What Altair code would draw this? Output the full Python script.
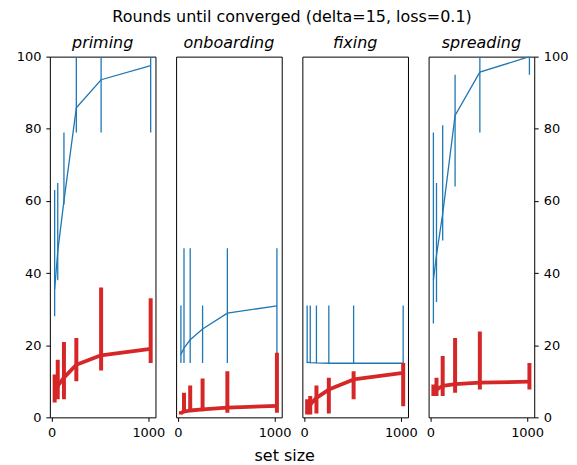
import altair as alt
import pandas as pd

set_sizes = [32, 64, 128, 256, 512, 1024]
panel_names = ["priming", "onboarding", "fixing", "spreading"]

# blue series (mean, low, high) per panel
blue_y = {
    "priming":    [35.5, 46.0, 60.0, 85.8, 93.6, 97.5],
    "onboarding": [17.4, 19.2, 21.5, 24.5, 28.9, 30.9],
    "fixing":     [15.3, 15.2, 15.1, 15.0, 15.0, 15.0],
    "spreading":  [38.0, 45.0, 56.5, 83.7, 95.7, 100.0],
}
blue_lo = {
    "priming":    [28, 38, 59, 79, 79, 79],
    "onboarding": [15.1, 15.1, 15.1, 15.1, 15.1, 15.1],
    "fixing":     [15.0, 15.0, 15.0, 15.0, 15.0, 15.0],
    "spreading":  [26, 32, 49, 64, 79, 95],
}
blue_hi = {
    "priming":    [63, 65, 79, 100, 100, 100],
    "onboarding": [31, 46.9, 46.9, 31, 46.9, 46.9],
    "fixing":     [31, 31, 31, 31, 31, 31],
    "spreading":  [79, 65, 81, 95, 100, 100],
}
# red series (mean, low, high) per panel
red_y = {
    "priming":    [6.0, 8.7, 11.0, 14.6, 17.2, 19.0],
    "onboarding": [1.2, 1.6, 1.9, 2.2, 2.7, 3.2],
    "fixing":     [2.7, 3.6, 5.4, 7.7, 10.5, 12.3],
    "spreading":  [7.3, 7.7, 8.7, 9.2, 9.6, 9.9],
}
red_lo = {
    "priming":    [4.1, 5.0, 5.0, 10.0, 13.0, 15.1],
    "onboarding": [0.8, 1.3, 1.7, 1.7, 1.3, 1.3],
    "fixing":     [0.8, 0.8, 1.1, 1.1, 5.0, 3.1],
    "spreading":  [5.9, 5.9, 5.9, 6.8, 7.7, 7.7],
}
red_hi = {
    "priming":    [11.9, 16.0, 20.9, 22.0, 36.0, 33.0],
    "onboarding": [1.7, 6.8, 8.8, 10.8, 12.8, 17.9],
    "fixing":     [5.0, 5.9, 8.8, 11.0, 12.8, 15.1],
    "spreading":  [9.1, 11.0, 17.0, 22.0, 23.8, 15.1],
}

BLUE = "#1f77b4"
RED = "#d62728"
FONT = "DejaVu Sans"

charts = []
for i, name in enumerate(panel_names):
    df = pd.DataFrame({
        "x": set_sizes,
        "by": blue_y[name], "blo": blue_lo[name], "bhi": blue_hi[name],
        "ry": red_y[name], "rlo": red_lo[name], "rhi": red_hi[name],
    })
    xaxis = alt.Axis(values=[0, 1000], format="d", grid=False, labelFlush=False,
                     labelPadding=5,
                     title="set size" if i == 1 else None,
                     titleX=108.5, titleFontSize=16, titleFont=FONT,
                     titleFontWeight="normal", titlePadding=8, titleColor="black")
    xenc = alt.X("x:Q", scale=alt.Scale(domain=[-17.6, 1073.6], nice=False, zero=False),
                 axis=xaxis)
    if i == 0:
        yaxis = alt.Axis(values=[0, 20, 40, 60, 80, 100], grid=False, title=None,
                         orient="left", labelPadding=5)
    elif i == 3:
        yaxis = alt.Axis(values=[0, 20, 40, 60, 80, 100], grid=False, title=None,
                         orient="right", labelPadding=5)
    else:
        yaxis = None
    yscale = alt.Scale(domain=[0, 100], nice=False, zero=False)
    base = alt.Chart(df)
    b_err = base.mark_rule(color=BLUE, strokeWidth=1.3, clip=True).encode(
        x=xenc, y=alt.Y("blo:Q", scale=yscale, axis=yaxis), y2="bhi:Q")
    b_line = base.mark_line(color=BLUE, strokeWidth=1.3, clip=True).encode(
        x="x:Q", y="by:Q")
    r_err = base.mark_rule(color=RED, strokeWidth=4, clip=True).encode(
        x="x:Q", y="rlo:Q", y2="rhi:Q")
    r_line = base.mark_line(color=RED, strokeWidth=3.8, strokeJoin="round", clip=True).encode(
        x="x:Q", y="ry:Q")
    title_offset = 0 if i in (0, 3) else 6
    layer = alt.layer(b_err, b_line, r_err, r_line).properties(
        width=106, height=362,
        title=alt.TitleParams(name, fontStyle="italic", fontSize=16, font=FONT,
                              fontWeight="normal", offset=title_offset, color="black"),
    )
    charts.append(layer)

chart = alt.hconcat(*charts, spacing=20.7, bounds="flush").properties(
    title=alt.TitleParams("Rounds until converged (delta=15, loss=0.1)", fontSize=16,
                          font=FONT, fontWeight="normal", anchor="middle", offset=9,
                          color="black"),
    padding={"left": 7, "top": 0, "right": 0, "bottom": 0},
).configure_view(
    stroke="black", strokeWidth=1
).configure_axis(
    domain=False, tickColor="black", tickSize=4, labelFontSize=13, labelFont=FONT,
    labelColor="black"
)

chart.save("out.html", embed_options={"renderer": "svg", "actions": False})
